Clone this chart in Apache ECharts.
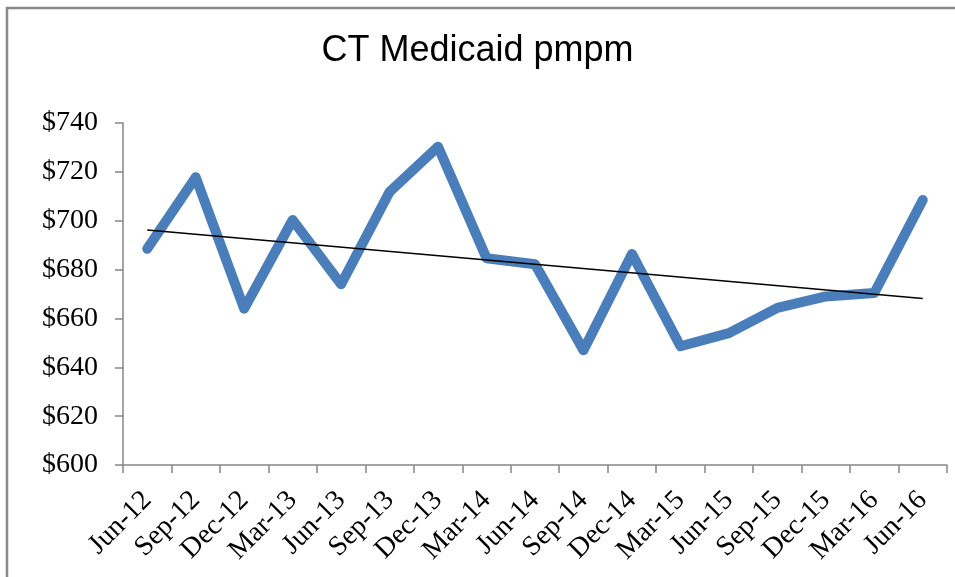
<!DOCTYPE html>
<html lang="en">
<head>
    <meta charset="UTF-8">
    <title>CT Medicaid pmpm</title>
    <script type="text/javascript" src="https://fastly.jsdelivr.net/npm/echarts@6.0.0/dist/echarts.min.js"></script>
    <style>
        html, body { margin: 0; padding: 0; background: #fff; }
    </style>
</head>
<body>
<div id="chart" style="width: 955px; height: 577px;"></div>
<script type="text/javascript">
    var quarters = ['Jun-12', 'Sep-12', 'Dec-12', 'Mar-13', 'Jun-13', 'Sep-13', 'Dec-13', 'Mar-14', 'Jun-14',
                    'Sep-14', 'Dec-14', 'Mar-15', 'Jun-15', 'Sep-15', 'Dec-15', 'Mar-16', 'Jun-16'];
    var pmpm = [688.5, 717.8, 664, 700.3, 674, 711.8, 730.3, 684.6, 682.2,
                647, 686.4, 648.6, 654, 664.3, 669, 670.4, 708.5];
    // trend line end points (first and last quarter)
    var trendEnds = [696.2, 668.2];

    var serif = '"Liberation Serif", "DejaVu Serif", serif';
    var axisGrey = '#868686';

    var myChart = echarts.init(document.getElementById('chart'));

    option = {
        backgroundColor: '#fff',
        animation: false,
        title: {
            text: 'CT Medicaid pmpm',
            left: 'center',
            top: 28,
            textStyle: {
                fontFamily: '"Liberation Sans", Arial, sans-serif',
                fontSize: 36,
                fontWeight: 'normal',
                color: '#000'
            }
        },
        graphic: [{
            type: 'rect',
            shape: { x: 7, y: 8, width: 1000, height: 1000 },
            style: { fill: 'none', stroke: '#888', lineWidth: 2.5 },
            silent: true
        }],
        grid: {
            left: 123,
            right: 8,
            top: 123,
            bottom: 112
        },
        xAxis: {
            type: 'category',
            data: quarters,
            boundaryGap: true,
            axisLine: { lineStyle: { color: axisGrey, width: 1.5 } },
            axisTick: { show: true, length: 8, alignWithLabel: false, lineStyle: { color: axisGrey, width: 1.5 } },
            axisLabel: {
                rotate: 45,
                interval: 0,
                margin: 31,
                fontFamily: serif,
                fontSize: 28,
                color: '#000'
            },
            splitLine: { show: false }
        },
        yAxis: {
            type: 'value',
            min: 600,
            max: 740,
            interval: 20,
            axisLine: { show: true, lineStyle: { color: axisGrey, width: 1.5 } },
            axisTick: { show: true, length: 8, lineStyle: { color: axisGrey, width: 1.5 } },
            axisLabel: {
                margin: 25,
                fontFamily: serif,
                fontSize: 28,
                color: '#000',
                formatter: function (v) { return '$' + v; }
            },
            splitLine: { show: false }
        },
        series: [{
            name: 'pmpm',
            type: 'line',
            data: pmpm,
            symbol: 'none',
            lineStyle: { color: '#4a7ebb', width: 10, cap: 'round', join: 'round' },
            z: 2
        }, {
            name: 'Trend',
            type: 'line',
            data: [[quarters[0], trendEnds[0]], [quarters[quarters.length - 1], trendEnds[1]]],
            symbol: 'none',
            lineStyle: { color: '#000', width: 1.5 },
            z: 3
        }]
    };
    myChart.setOption(option);
</script>
</body>
</html>
